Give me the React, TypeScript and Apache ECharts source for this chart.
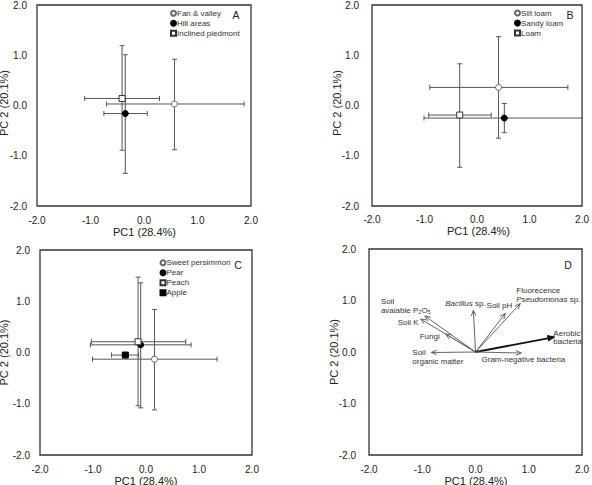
import React, { useEffect, useRef } from "react";
import * as echarts from "echarts";

const FONT = "'Liberation Sans', Arial, Helvetica, sans-serif";

// ---------- data ----------
const axisTicks = [-2, -1, 0, 1, 2];
const xTitle = "PC1 (28.4%)";
const yTitle = "PC 2 (20.1%)";
const panelLetters = ["A", "B", "C", "D"];

// Panel A: landscape
const namesA = ["Fan & valley", "Hill areas", "Inclined piedmont"];
const pointsA = [[0.57, 0.03], [-0.35, -0.16], [-0.41, 0.14]];
const xErrA = [[-0.70, 1.87], [-0.75, 0.06], [-1.11, 0.29]];
const yErrA = [[-0.88, 0.92], [-1.35, 1.01], [-0.89, 1.19]];
const markersA = ["openCircle", "filledCircle", "openSquare"];

// Panel B: soil texture
const namesB = ["Silt loam", "Sandy loam", "Loam"];
const pointsB = [[0.41, 0.36], [0.52, -0.25], [-0.33, -0.19]];
const xErrB = [[-0.90, 1.73], [-1.01, 2.4], [-0.92, 0.27]];
const yErrB = [[-0.65, 1.37], [-0.54, 0.04], [-1.23, 0.83]];
const markersB = ["openCircle", "filledCircle", "openSquare"];

// Panel C: crop
const namesC = ["Sweet persimmon", "Pear", "Peach", "Apple"];
const pointsC = [[0.16, -0.13], [-0.10, 0.15], [-0.15, 0.21], [-0.39, -0.05]];
const xErrC = [[-1.01, 1.34], [-1.05, 0.85], [-1.03, 0.75], [-0.65, -0.14]];
const yErrC = [[-1.12, 0.84], [-1.08, 1.36], [-1.04, 1.47], null];
const markersC = ["openCircle", "filledCircle", "openSquare", "filledSquare"];

// Panel D: loadings
const varLabels = [
  "Soil\navaiable P₂O₅",
  "Soil K",
  "Fungi",
  "Soil\norganic matter",
  "{i|Bacillus} sp.",
  "Soil pH",
  "Fluorecence\n{i|Pseudomonas} sp.",
  "Aerobic\nbacteria",
  "Gram-negative bacteria",
];
const pc1Loadings = [-0.95, -1.03, -0.56, -0.83, -0.04, 0.56, 0.84, 1.48, 0.86];
const pc2Loadings = [0.70, 0.64, 0.35, -0.01, 0.81, 0.75, 0.94, 0.29, -0.02];

// ---------- layout / styles ----------
const markerStyles: Record<string, any> = {
  openCircle: { symbol: "circle", color: "#fff", border: "#666" },
  filledCircle: { symbol: "circle", color: "#000", border: "#000" },
  openSquare: { symbol: "rect", color: "#fff", border: "#333" },
  filledSquare: { symbol: "rect", color: "#000", border: "#000" },
};

const grids = [
  { left: 37, top: 0.5, width: 214, height: 205.5 },
  { left: 372, top: 0.5, width: 213, height: 205.5 },
  { left: 40, top: 250, width: 212, height: 205 },
  { left: 369, top: 249, width: 214, height: 206 },
];
const yLabelMargins = [10, 13, 10, 13];
const xLabelMargins = [9, 8, 9, 9];
const yTitlePos = [[4, 103], [337, 103], [4, 352.5], [334, 352]];
const xTitlePos = [[144.5, 232], [478.5, 231], [146, 481], [476, 481]];
const letterPos = [[236, 15], [570, 15], [238, 264.5], [568, 265]];
const legendPos = [
  { left: 170, top: 8.3 },
  { left: 514, top: 8 },
  { left: 159.5, top: 257.7 },
];

// label offsets (px) relative to arrow tip, for panel D
const labelOffsets: [number, number, string][] = [
  [-44, -10, "left"],
  [-2, 3, "right"],
  [-6, 3, "right"],
  [-19, 4.6, "left"],
  [-8, -6.7, "center"],
  [7, -7.5, "right"],
  [-4, -8.5, "left"],
  [-1, 0.3, "left"],
  [2, 6, "center"],
];

function errorBarSeries(panel: number, points: number[][], xErr: number[][], yErr: (number[] | null)[]) {
  const data = points.map((p, i) => {
    const ye = yErr[i];
    return [p[0], p[1], xErr[i][0], xErr[i][1], ye ? ye[0] : p[1], ye ? ye[1] : p[1]];
  });
  return {
    type: "custom",
    xAxisIndex: panel,
    yAxisIndex: panel,
    clip: true,
    z: 2,
    silent: true,
    data,
    renderItem: (params: any, api: any) => {
      const x = api.value(0);
      const y = api.value(1);
      const xlo = api.value(2), xhi = api.value(3), ylo = api.value(4), yhi = api.value(5);
      const style = { stroke: "#555", lineWidth: 1, fill: null };
      const cap = 2.5;
      const children: any[] = [];
      const L = api.coord([xlo, y]);
      const R = api.coord([xhi, y]);
      children.push({ type: "line", shape: { x1: L[0], y1: L[1], x2: R[0], y2: R[1] }, style });
      children.push({ type: "line", shape: { x1: L[0], y1: L[1] - cap, x2: L[0], y2: L[1] + cap }, style });
      children.push({ type: "line", shape: { x1: R[0], y1: R[1] - cap, x2: R[0], y2: R[1] + cap }, style });
      if (yhi !== ylo) {
        const B = api.coord([x, ylo]);
        const T = api.coord([x, yhi]);
        children.push({ type: "line", shape: { x1: B[0], y1: B[1], x2: T[0], y2: T[1] }, style });
        children.push({ type: "line", shape: { x1: B[0] - cap, y1: B[1], x2: B[0] + cap, y2: B[1] }, style });
        children.push({ type: "line", shape: { x1: T[0] - cap, y1: T[1], x2: T[0] + cap, y2: T[1] }, style });
      }
      return { type: "group", children };
    },
  };
}

function pointSeries(panel: number, names: string[], points: number[][], markers: string[]) {
  return names.map((name, i) => {
    const m = markerStyles[markers[i]];
    return {
      type: "scatter",
      name,
      xAxisIndex: panel,
      yAxisIndex: panel,
      symbol: m.symbol,
      symbolSize: 6,
      z: 5,
      itemStyle: { color: m.color, borderColor: m.border, borderWidth: 1, opacity: 1 },
      data: [points[i]],
    };
  });
}

function arrowSeries() {
  const data = pc1Loadings.map((x, i) => [x, pc2Loadings[i]]);
  return {
    type: "custom",
    xAxisIndex: 3,
    yAxisIndex: 3,
    clip: false,
    z: 3,
    silent: true,
    data,
    renderItem: (params: any, api: any) => {
      const i = params.dataIndex;
      const O = api.coord([0, 0]);
      const T = api.coord([api.value(0), api.value(1)]);
      const bold = varLabels[i].startsWith("Aerobic");
      const color = bold ? "#111" : "#666";
      const lw = bold ? 1.8 : 1;
      const ang = Math.atan2(T[1] - O[1], T[0] - O[0]);
      const hl = bold ? 7 : 6;
      const ha = 0.4;
      const p1 = [T[0] - hl * Math.cos(ang - ha), T[1] - hl * Math.sin(ang - ha)];
      const p2 = [T[0] - hl * Math.cos(ang + ha), T[1] - hl * Math.sin(ang + ha)];
      const children: any[] = [
        { type: "line", shape: { x1: O[0], y1: O[1], x2: T[0], y2: T[1] }, style: { stroke: color, lineWidth: lw } },
      ];
      if (bold) {
        children.push({ type: "polygon", shape: { points: [T, p1, p2] }, style: { fill: color, stroke: color, lineWidth: 1 } });
      } else {
        children.push({ type: "polyline", shape: { points: [p1, T, p2] }, style: { stroke: color, lineWidth: 1, fill: null } });
      }
      const off = labelOffsets[i];
      children.push({
        type: "text",
        x: T[0] + off[0],
        y: T[1] + off[1],
        style: {
          text: varLabels[i],
          fontFamily: FONT,
          fontSize: 8,
          lineHeight: 8.5,
          fill: "#333",
          align: off[2],
          verticalAlign: "middle",
          rich: { i: { fontStyle: "italic", fontFamily: FONT, fontSize: 8, lineHeight: 8.5, fill: "#333" } },
        },
      });
      return { type: "group", children };
    },
  };
}

export default function App() {
  const ref = useRef<HTMLDivElement>(null);
  useEffect(() => {
    if (!ref.current) return;
    const chart = echarts.init(ref.current, undefined, { renderer: "svg" });
    const fmt = (v: number) => (axisTicks.includes(v) ? v.toFixed(1) : "");
    const xAxis = grids.map((_, k) => ({
      type: "value",
      gridIndex: k,
      min: -2,
      max: 2,
      interval: 1,
      axisLine: { show: false, onZero: false },
      axisTick: { show: false },
      splitLine: { show: false },
      axisLabel: { formatter: fmt, fontFamily: FONT, fontSize: 10, color: "#222", margin: xLabelMargins[k] },
    }));
    const yAxis = grids.map((_, k) => ({
      type: "value",
      gridIndex: k,
      min: -2,
      max: 2,
      interval: 1,
      axisLine: { show: false, onZero: false },
      axisTick: { show: false },
      splitLine: { show: false },
      axisLabel: { formatter: fmt, fontFamily: FONT, fontSize: 10, color: "#222", margin: yLabelMargins[k] },
    }));
    const legendNames = [namesA, namesB, namesC];
    const legend = legendNames.map((names, k) => ({
      data: names,
      orient: "vertical",
      left: legendPos[k].left,
      top: legendPos[k].top,
      padding: 0,
      itemGap: 0,
      itemWidth: 5,
      itemHeight: 5,
      selectedMode: false,
      textStyle: { fontFamily: FONT, fontSize: 8, lineHeight: 10, color: "#333", padding: [0, 0, 0, -4] },
    }));
    const graphics: any[] = [];
    grids.forEach((_, k) => {
      graphics.push({
        type: "text",
        x: yTitlePos[k][0],
        y: yTitlePos[k][1],
        rotation: Math.PI / 2,
        style: { text: yTitle, fontFamily: FONT, fontSize: 11, fill: "#222", align: "center", verticalAlign: "middle" },
      });
      graphics.push({
        type: "text",
        x: xTitlePos[k][0],
        y: xTitlePos[k][1],
        style: { text: xTitle, fontFamily: FONT, fontSize: 11, fill: "#222", align: "center", verticalAlign: "middle" },
      });
      graphics.push({
        type: "text",
        x: letterPos[k][0],
        y: letterPos[k][1],
        style: { text: panelLetters[k], fontFamily: FONT, fontSize: 10.5, fill: "#222", align: "center", verticalAlign: "middle" },
      });
    });
    chart.setOption({
      animation: false,
      backgroundColor: "#fff",
      grid: grids.map((g) => ({ ...g, show: true, borderColor: "#333", borderWidth: 1.3, containLabel: false })),
      xAxis,
      yAxis,
      legend,
      graphic: graphics,
      series: [
        errorBarSeries(0, pointsA, xErrA, yErrA),
        ...pointSeries(0, namesA, pointsA, markersA),
        errorBarSeries(1, pointsB, xErrB, yErrB),
        ...pointSeries(1, namesB, pointsB, markersB),
        errorBarSeries(2, pointsC, xErrC, yErrC),
        ...pointSeries(2, namesC, pointsC, markersC),
        arrowSeries(),
      ],
    });
    return () => chart.dispose();
  }, []);
  return <div ref={ref} style={{ position: "absolute", left: 0, top: 0, width: 592, height: 485 }} />;
}
